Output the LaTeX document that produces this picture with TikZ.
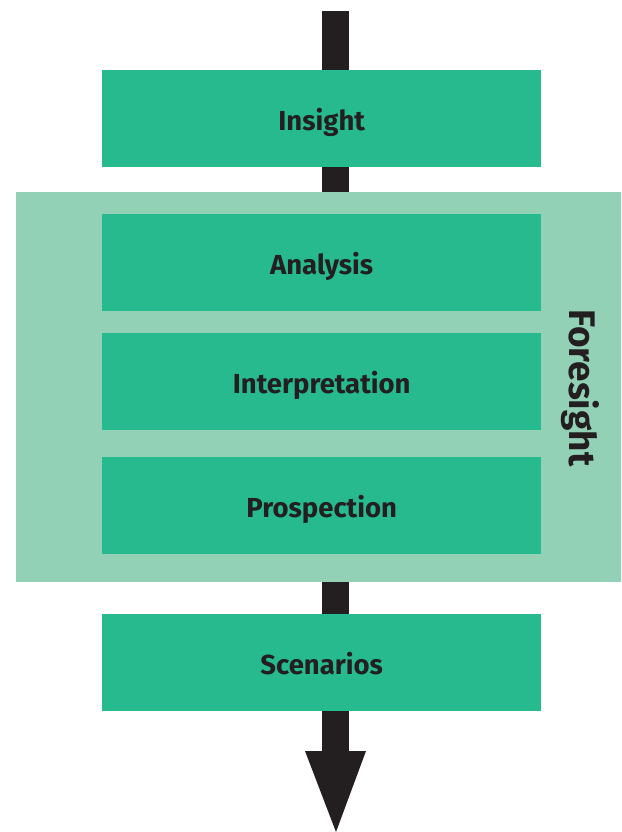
\documentclass[tikz,border=0pt]{standalone}
\usepackage{fontspec}
\setmainfont{Fira Sans}
\definecolor{boxgreen}{HTML}{26BA8E}
\definecolor{panelgreen}{HTML}{93D1B7}
\definecolor{arrowdark}{HTML}{231F20}
\begin{document}
\begin{tikzpicture}[x=1pt,y=-1pt,
  stage/.style={fill=boxgreen, draw=none, minimum width=439pt, minimum height=97pt,
    inner sep=0pt, text height=25pt, text depth=2pt,
    font=\fontsize{27.5}{32}\selectfont\bfseries, text=arrowdark},
  shaft/.style={fill=arrowdark, draw=none}]
\useasboundingbox (0,0) rectangle (621,832);
% flow shaft and arrowhead behind the boxes
\fill[shaft] (322,11) rectangle (349,751);
\fill[shaft] (305,751) -- (366,751) -- (336,832) -- cycle;
% foresight panel
\node[fill=panelgreen, draw=none, minimum width=605pt, minimum height=390pt, inner sep=0pt,
  anchor=north west] (panel) at (16,192) {};
\node[rotate=-90, font=\fontsize{37}{42}\selectfont\bfseries, text=arrowdark] (fs) at (580,388) {Foresight};
% stage boxes
\node[stage, anchor=north west] (insight) at (102,70) {Insight};
\node[stage, anchor=north west] (analysis) at (102,214) {Analysis};
\node[stage, anchor=north west] (interp) at (102,333) {Interpretation};
\node[stage, anchor=north west] (prosp) at (102,457) {Prospection};
\node[stage, anchor=north west] (scen) at (102,614) {Scenarios};
\end{tikzpicture}
\end{document}
